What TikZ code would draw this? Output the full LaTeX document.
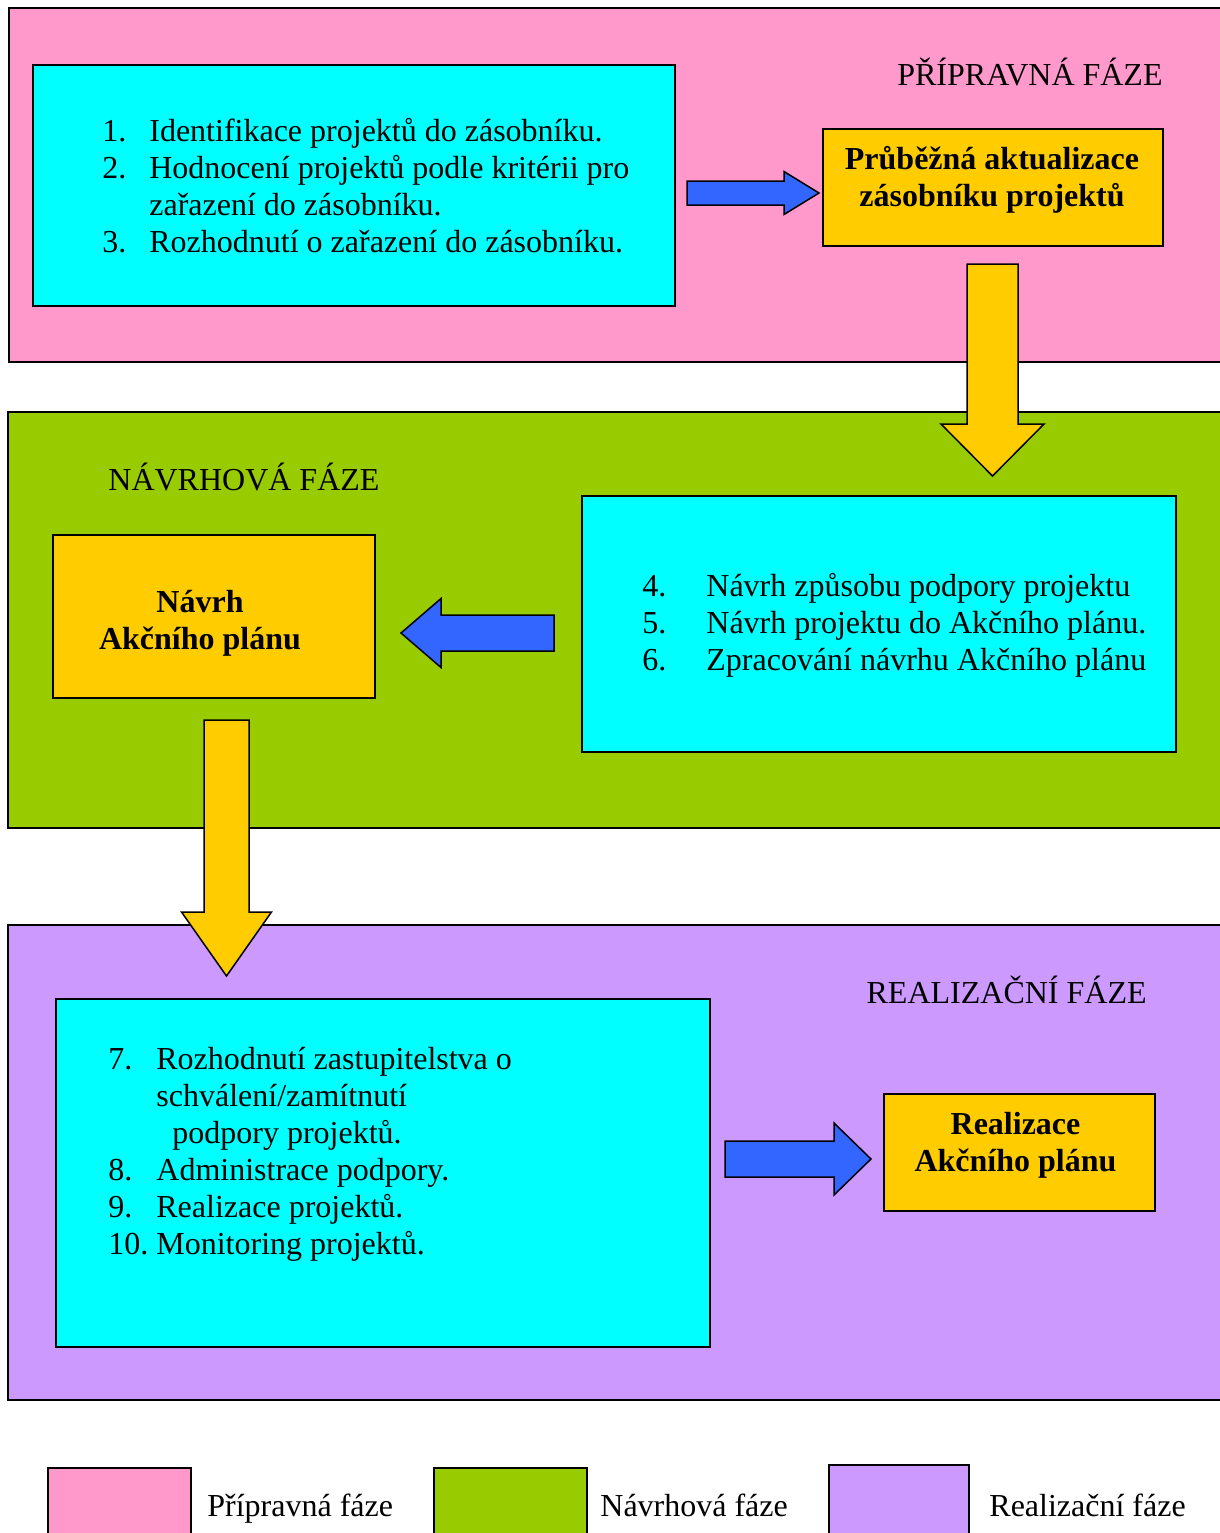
\documentclass[tikz,border=0pt]{standalone}
\usepackage{fontspec}
\setmainfont{Liberation Serif}
\usetikzlibrary{calc}
\definecolor{phasepink}{HTML}{FF99CC}
\definecolor{phasegreen}{HTML}{99CC00}
\definecolor{phaselilac}{HTML}{CC99FF}
\definecolor{boxcyan}{HTML}{00FFFF}
\definecolor{boxgold}{HTML}{FFCC00}
\definecolor{arrowblue}{HTML}{3366FF}
\newcommand{\phasefont}{\fontsize{16}{18.5}\selectfont}
\newcommand{\stagefont}{\fontsize{16}{18.5}\selectfont\bfseries}
% block arrow: style, from, to, half shaft, half head, head length
\newcommand{\blockarrow}[6]{%
  \draw[#1] let \p1=#2, \p2=#3,
      \n1={atan2(\y2-\y1,\x2-\x1)}, \n2={veclen(\x2-\x1,\y2-\y1)-#6}, \n3={\n1+90} in
    ($(\p1)+(\n3:#4)$) -- ($(\p1)+(\n1:\n2)+(\n3:#4)$) -- ($(\p1)+(\n1:\n2)+(\n3:#5)$) --
    (\p2) -- ($(\p1)+(\n1:\n2)+(\n3:-#5)$) -- ($(\p1)+(\n1:\n2)+(\n3:-#4)$) --
    ($(\p1)+(\n3:-#4)$) -- cycle;}

\begin{document}
\begin{tikzpicture}[x=0.5pt, y=-0.5pt,
                phase/.style = {draw, line width=1pt, inner sep=0pt},
                listbox/.style = {draw, line width=1pt, fill=boxcyan, inner sep=0pt},
                stagebox/.style = {draw, line width=1pt, fill=boxgold, inner sep=0pt},
                title/.style = {inner sep=0pt, font=\phasefont},
                listtext/.style = {inner sep=0pt, font=\phasefont},
                stagetext/.style = {inner sep=0pt, font=\stagefont},
                bluearrow/.style = {draw, line width=0.75pt, fill=arrowblue},
                goldarrow/.style = {draw, line width=0.75pt, fill=boxgold}]
                \useasboundingbox (0,0) rectangle (1220,1533);
                % phases
                \node[phase, fill=phasepink, minimum width=608pt, minimum height=177pt] (prip) at (617,185) {};
                \node[phase, fill=phasegreen, minimum width=608.5pt, minimum height=208pt] (navrh) at (616.5,620) {};
                \node[phase, fill=phaselilac, minimum width=608.5pt, minimum height=237.5pt] (real) at (616.5,1162.5) {};
                \node[title, anchor=base east] (priptitle) at (1163,85) {PŘÍPRAVNÁ FÁZE};
                \node[title, anchor=base west] (navrhtitle) at (108,490) {NÁVRHOVÁ FÁZE};
                \node[title, anchor=base east] (realtitle) at (1147,1003) {REALIZAČNÍ FÁZE};
                % boxes
                \node[listbox, minimum width=321pt, minimum height=120.5pt] (box1) at (354,185.5) {};
                \node[stagebox, minimum width=170pt, minimum height=58.5pt] (akt) at (993,187.5) {};
                \node[listbox, minimum width=297pt, minimum height=128pt] (box2) at (879,624) {};
                \node[stagebox, minimum width=161pt, minimum height=81.5pt] (navap) at (214,616.5) {};
                \node[listbox, minimum width=327pt, minimum height=174pt] (box3) at (383,1173) {};
                \node[stagebox, minimum width=135.5pt, minimum height=58.5pt] (realap) at (1019.5,1152.5) {};
                % texts
                \node[listtext, anchor=base west] (list1) at ($(box1.north west)+(70,77)$)
                    {\begin{tabular}[t]{@{}p{23.5pt}@{}l@{}}
                     1. & Identifikace projektů do zásobníku.\\
                     2. & Hodnocení projektů podle kritérii pro\\
                        & zařazení do zásobníku.\\
                     3. & Rozhodnutí o zařazení do zásobníku.
                     \end{tabular}};
                \node[listtext, anchor=base west] (list2) at ($(box2.north west)+(61,101)$)
                    {\begin{tabular}[t]{@{}p{32pt}@{}l@{}}
                     4. & Návrh způsobu podpory projektu\\
                     5. & Návrh projektu do Akčního plánu.\\
                     6. & Zpracování návrhu Akčního plánu
                     \end{tabular}};
                \node[listtext, anchor=base west] (list3) at ($(box3.north west)+(53,71.5)$)
                    {\begin{tabular}[t]{@{}p{24pt}@{}l@{}}
                     7. & Rozhodnutí zastupitelstva o\\
                        & schválení/zamítnutí\\
                        & \hspace{8pt}podpory projektů.\\
                     8. & Administrace podpory.\\
                     9. & Realizace projektů.\\
                     10. & Monitoring projektů.
                     \end{tabular}};
                \node[stagetext, anchor=base] (akttext) at ($(akt.north)+(-1,41)$)
                    {\begin{tabular}[t]{@{}c@{}}Průběžná aktualizace\\zásobníku projektů\end{tabular}};
                \node[stagetext, anchor=base] (navaptext) at ($(navap.north)+(-14,78.5)$)
                    {\begin{tabular}[t]{@{}c@{}}Návrh\\Akčního plánu\end{tabular}};
                \node[stagetext, anchor=base] (realaptext) at ($(realap.north)+(-4,41)$)
                    {\begin{tabular}[t]{@{}c@{}}Realizace\\Akčního plánu\end{tabular}};
                % arrows
                \blockarrow{bluearrow}{($(box1.east)+(11,7.5)$)}{($(akt.west)+(-3,5.5)$)}{6pt}{10.75pt}{17.5pt}
                \blockarrow{bluearrow}{($(box2.west)+(-27,9)$)}{($(navap.east)+(25,16.5)$)}{9pt}{17.25pt}{20pt}
                \blockarrow{bluearrow}{($(box3.east)+(14,-14)$)}{($(realap.west)+(-12,6.5)$)}{9pt}{18pt}{18.5pt}
                \blockarrow{goldarrow}{($(akt.south)+(-0.5,17)$)}{($(akt.south |- box2.north)+(-0.5,-19)$)}{12.75pt}{25.75pt}{26pt}
                \blockarrow{goldarrow}{($(navap.south)+(12.5,21)$)}{($(navap.south |- box3.north)+(12.5,-22)$)}{11.25pt}{22.5pt}{32pt}
                % legend
                \node[phase, fill=phasepink, minimum width=71.5pt, minimum height=38.5pt] (legprip) at (119.5,1506.5) {};
                \node[phase, fill=phasegreen, minimum width=76.5pt, minimum height=38.5pt] (legnavrh) at (510.5,1506.5) {};
                \node[phase, fill=phaselilac, minimum width=70pt, minimum height=40pt] (legreal) at (899,1505) {};
                \node[title, anchor=base west] (legpriptext) at (207,1516) {Přípravná fáze};
                \node[title, anchor=base west] (legnavrhtext) at (600,1516) {Návrhová fáze};
                \node[title, anchor=base west] (legrealtext) at (989,1516) {Realizační fáze};
\end{tikzpicture}
\end{document}
